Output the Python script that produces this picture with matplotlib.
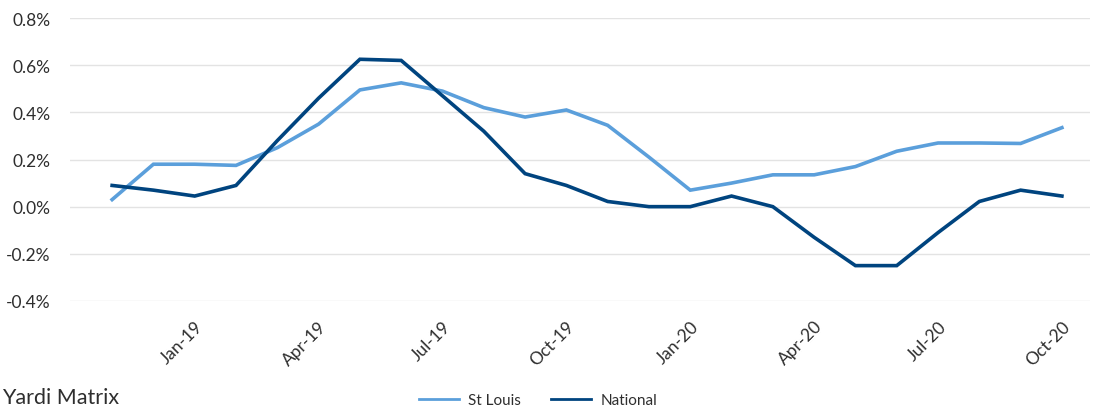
import matplotlib
matplotlib.use("Agg")
import matplotlib.pyplot as plt
from matplotlib.lines import Line2D
from matplotlib.ticker import FuncFormatter, FixedLocator

months = ["Nov-18", "Dec-18", "Jan-19", "Feb-19", "Mar-19", "Apr-19", "May-19", "Jun-19",
          "Jul-19", "Aug-19", "Sep-19", "Oct-19", "Nov-19", "Dec-19", "Jan-20", "Feb-20",
          "Mar-20", "Apr-20", "May-20", "Jun-20", "Jul-20", "Aug-20", "Sep-20", "Oct-20"]
st_louis = [0.03, 0.18, 0.18, 0.175, 0.25, 0.35, 0.495, 0.525, 0.49, 0.42, 0.38, 0.41,
            0.345, 0.21, 0.07, 0.10, 0.135, 0.135, 0.17, 0.235, 0.27, 0.27, 0.268, 0.335]
national = [0.09, 0.07, 0.045, 0.09, 0.28, 0.46, 0.625, 0.62, 0.47, 0.32, 0.14, 0.09,
            0.022, 0.0, 0.0, 0.045, 0.0, -0.13, -0.25, -0.25, -0.11, 0.022, 0.07, 0.045]
tick_labels = ["Jan-19", "Apr-19", "Jul-19", "Oct-19", "Jan-20", "Apr-20", "Jul-20", "Oct-20"]

LIGHT = "#5B9FDB"
DARK = "#00447F"
TXT = "#2E2E2E"
FONT = "Lato"

fig = plt.figure(figsize=(10.93, 4.10), dpi=100)
ax = fig.add_axes([70/1093, 108/410, (1090-70)/1093, 283/410])

x = list(range(len(months)))
ax.plot(x, st_louis, color=LIGHT, lw=2.6, solid_joinstyle="miter", zorder=3)
ax.plot(x, national, color=DARK, lw=2.6, solid_joinstyle="miter", zorder=4)

ax.set_ylim(-0.4, 0.8)
ax.set_xlim(-1.02, 23.68)
ax.set_yticks([-0.4, -0.2, 0.0, 0.2, 0.4, 0.6, 0.8])
ax.yaxis.set_major_formatter(FuncFormatter(lambda v, p: f"{v:.1f}%"))
ax.grid(axis="y", color="#E3E3E3", lw=1.0)
ax.set_axisbelow(True)

tick_pos = [months.index(t) for t in tick_labels]
ax.xaxis.set_major_locator(FixedLocator(tick_pos))
ax.set_xticklabels(tick_labels, rotation=45, ha="right", rotation_mode="anchor",
                   fontsize=12.5, color=TXT, family=FONT)
for lab in ax.get_yticklabels():
    lab.set_fontsize(12.5)
    lab.set_color(TXT)
    lab.set_family(FONT)
ax.tick_params(axis="both", length=0)
ax.tick_params(axis="x", pad=12)
ax.tick_params(axis="y", pad=14)
for s in ax.spines.values():
    s.set_visible(False)

fig.text(2/1093, 2/410, "Yardi Matrix", fontsize=15.5, color=TXT, family=FONT,
         va="bottom", ha="left")

handles = [Line2D([], [], color=LIGHT, lw=2), Line2D([], [], color=DARK, lw=2)]
fig.legend(handles, ["St Louis", "National"], loc="center", bbox_to_anchor=(538/1093, 9/410),
           ncol=2, frameon=False, handlelength=2.6, columnspacing=2.0,
           prop={"family": FONT, "size": 11}, labelcolor=TXT, handletextpad=0.6)

fig.savefig("out.png", dpi=100)
